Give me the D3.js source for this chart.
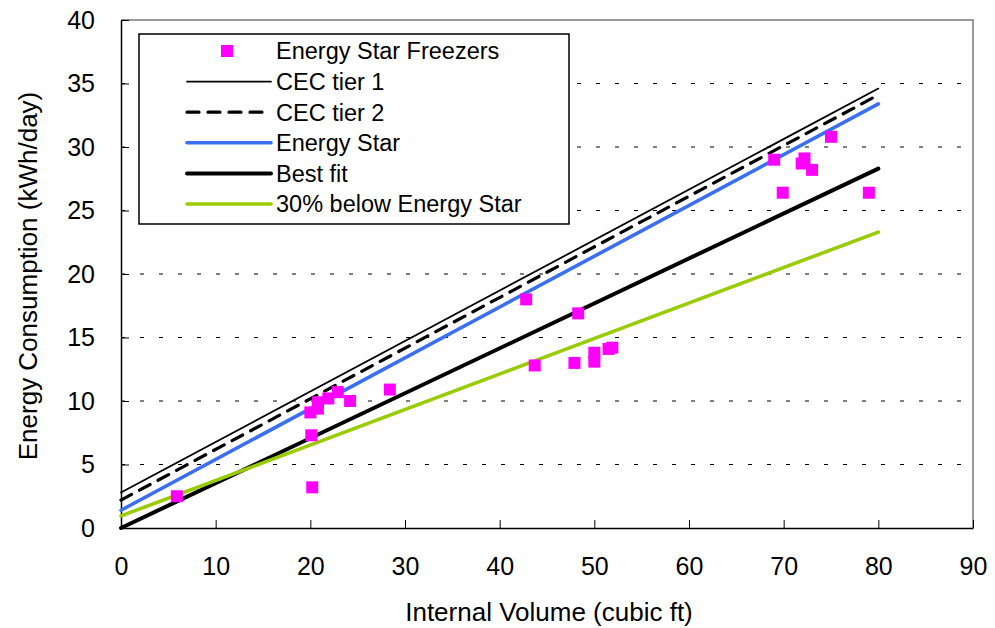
<!DOCTYPE html>
<html>
<head>
<meta charset="utf-8">
<script src="https://cdn.jsdelivr.net/npm/d3@7"></script>
<style>
  body { margin: 0; background: #fff; }
  svg { font-family: "Liberation Sans", Arial, sans-serif; }
</style>
</head>
<body>
<div id="chart-div"></div>
<script>
// chart data
const volumes = [5.9, 20.2, 20.1, 20.0, 20.8, 20.8, 21.9, 22.9, 24.2, 28.4,
  42.8, 48.3, 43.7, 47.9, 50.0, 50.0, 51.5, 51.9,
  69.0, 69.9, 72.2, 71.9, 73.0, 75.0, 79.0];
const energy = [2.5, 3.2, 7.3, 9.1, 9.4, 9.9, 10.2, 10.7, 10.0, 10.9,
  18.0, 16.9, 12.8, 13.0, 13.8, 13.1, 14.1, 14.2,
  29.0, 26.4, 29.1, 28.7, 28.2, 30.8, 26.4];

// reference lines, endpoints at volume 0 and 80
const lineVolumes = [0, 80];
const cecTier1 = [2.8, 34.6];
const cecTier2 = [2.2, 34.1];
const energyStar = [1.4, 33.4];
const bestFit = [0.0, 28.3];
const below30 = [0.95, 23.3];

const legendLabels = ['Energy Star Freezers', 'CEC tier 1', 'CEC tier 2', 'Energy Star', 'Best fit', '30% below Energy Star'];
const xTicks = [0, 10, 20, 30, 40, 50, 60, 70, 80, 90];
const yTicks = [0, 5, 10, 15, 20, 25, 30, 35, 40];

const CHART_WIDTH = 995;
const CHART_HEIGHT = 628;
const MARGIN = { left: 121, right: 22, top: 20, bottom: 100 };

const svg = d3.select('#chart-div')
  .append('svg')
  .attr('width', CHART_WIDTH)
  .attr('height', CHART_HEIGHT);

const xScale = d3.scaleLinear()
  .domain([0, 90])
  .range([MARGIN.left, CHART_WIDTH - MARGIN.right]);

const yScale = d3.scaleLinear()
  .domain([0, 40])
  .range([CHART_HEIGHT - MARGIN.bottom, MARGIN.top]);

// dashed gridlines
svg.append('g')
  .selectAll('line')
  .data(yTicks.filter(d => d > 0 && d < 40))
  .join('line')
  .attr('x1', xScale(0))
  .attr('x2', xScale(90))
  .attr('y1', d => yScale(d))
  .attr('y2', d => yScale(d))
  .attr('stroke', '#000')
  .attr('stroke-width', 1)
  .attr('stroke-dasharray', '4,15');

// top and right frame
svg.append('path')
  .attr('d', `M${xScale(0)},${yScale(40)}H${xScale(90)}V${yScale(0)}`)
  .attr('fill', 'none')
  .attr('stroke', '#999')
  .attr('stroke-width', 2);

const xAxis = svg.append('g')
  .attr('transform', `translate(0,${yScale(0)})`)
  .call(d3.axisBottom(xScale).tickValues(xTicks).tickSize(-8).tickPadding(29).tickSizeOuter(0));

const yAxis = svg.append('g')
  .attr('transform', `translate(${xScale(0)},0)`)
  .call(d3.axisLeft(yScale).tickValues(yTicks).tickSize(-8).tickPadding(26).tickSizeOuter(0));

[xAxis, yAxis].forEach(ax => {
  ax.select('.domain').attr('stroke', '#000').attr('stroke-width', 1.5);
  ax.selectAll('.tick line').attr('stroke', '#000').attr('stroke-width', 1);
  ax.selectAll('.tick text')
    .attr('fill', '#000')
    .style('font-size', '25px')
    .style('font-family', '"Liberation Sans", Arial, sans-serif');
});

// axis titles
svg.append('text')
  .attr('x', (xScale(0) + xScale(90)) / 2 + 2)
  .attr('y', 621)
  .attr('text-anchor', 'middle')
  .style('font-size', '26px')
  .text('Internal Volume (cubic ft)');

svg.append('text')
  .attr('transform', `translate(37,${(yScale(0) + yScale(40)) / 2 + 2}) rotate(-90)`)
  .attr('text-anchor', 'middle')
  .style('font-size', '26px')
  .text('Energy Consumption (kWh/day)');

// reference lines
const lineSeries = [
  { vals: cecTier1, color: '#000', width: 1.8, dash: null },
  { vals: cecTier2, color: '#000', width: 3.2, dash: '12,9' },
  { vals: energyStar, color: '#3a6ff0', width: 3.6, dash: null },
  { vals: bestFit, color: '#000', width: 4, dash: null },
  { vals: below30, color: '#99cc00', width: 3.6, dash: null }
];

const lineGen = d3.line()
  .x(d => xScale(d[0]))
  .y(d => yScale(d[1]));

svg.append('g')
  .selectAll('path')
  .data(lineSeries)
  .join('path')
  .attr('d', s => lineGen(lineVolumes.map((v, i) => [v, s.vals[i]])))
  .attr('fill', 'none')
  .attr('stroke', s => s.color)
  .attr('stroke-width', s => s.width)
  .attr('stroke-linecap', 'round')
  .attr('stroke-dasharray', s => s.dash);

// data points
const SQ = 12;
svg.append('g')
  .selectAll('rect')
  .data(volumes.map((v, i) => [v, energy[i]]))
  .join('rect')
  .attr('x', d => xScale(d[0]) - SQ / 2)
  .attr('y', d => yScale(d[1]) - SQ / 2)
  .attr('width', SQ)
  .attr('height', SQ)
  .attr('fill', '#ff00ff');

// legend
const legend = svg.append('g').attr('transform', 'translate(139,34)');
legend.append('rect')
  .attr('width', 430)
  .attr('height', 190)
  .attr('fill', '#fff')
  .attr('stroke', '#000')
  .attr('stroke-width', 1.5);

const rowY = i => 17 + i * 30.6;

legend.append('rect')
  .attr('x', 88 - SQ / 2)
  .attr('y', rowY(0) - SQ / 2)
  .attr('width', SQ)
  .attr('height', SQ)
  .attr('fill', '#ff00ff');

legend.selectAll('line')
  .data(lineSeries)
  .join('line')
  .attr('x1', 48)
  .attr('x2', 132)
  .attr('y1', (s, i) => rowY(i + 1))
  .attr('y2', (s, i) => rowY(i + 1))
  .attr('stroke', s => s.color)
  .attr('stroke-width', s => s.width)
  .attr('stroke-linecap', 'round')
  .attr('stroke-dasharray', s => s.dash);

legend.selectAll('text')
  .data(legendLabels)
  .join('text')
  .attr('x', 137)
  .attr('y', (d, i) => rowY(i))
  .attr('dy', '0.36em')
  .style('font-size', '23.5px')
  .text(d => d);
</script>
</body>
</html>
